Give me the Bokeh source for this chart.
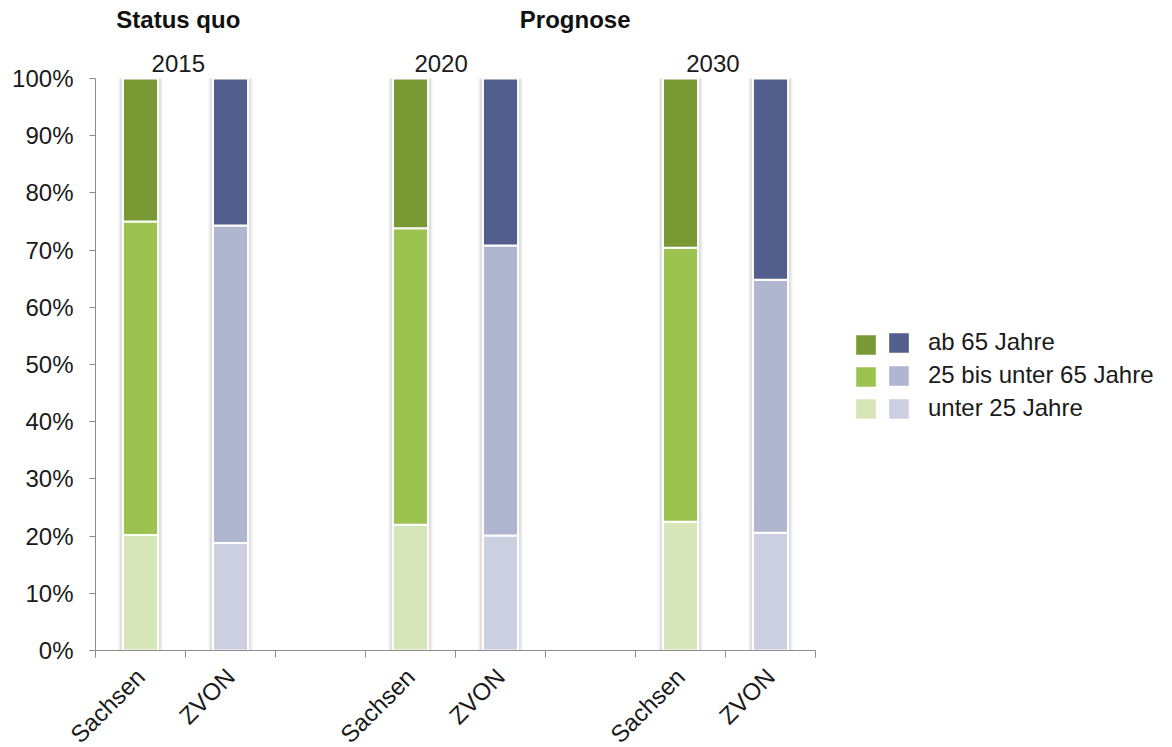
import numpy as np
from bokeh.plotting import figure
from bokeh.models import ColumnDataSource, FixedTicker, Label, Legend, LegendItem
from bokeh.embed import file_html
from bokeh.resources import INLINE

# ---------------- data ----------------
years = ["2015", "2020", "2030"]
regions = ["Sachsen", "ZVON"]
group_titles = ["Status quo", "Prognose"]
age_groups = ["unter 25 Jahre", "25 bis unter 65 Jahre", "ab 65 Jahre"]

sachsen_u25 = [20.2, 22.0, 22.5]
sachsen_25_65 = [54.8, 51.8, 47.9]
sachsen_65 = [25.0, 26.2, 29.6]

zvon_u25 = [18.8, 20.1, 20.6]
zvon_25_65 = [55.5, 50.7, 44.2]
zvon_65 = [25.7, 29.2, 35.2]

y_ticks = [0, 10, 20, 30, 40, 50, 60, 70, 80, 90, 100]
y_tick_labels = ["0%", "10%", "20%", "30%", "40%", "50%", "60%", "70%", "80%", "90%", "100%"]

sachsen_colors = ["#d7e6b9", "#9cc34f", "#789934"]
zvon_colors = ["#cbcfe0", "#b0b5d0", "#525e8b"]

FONT = "Liberation Sans"
FS = "24px"

# ---------------- figure ----------------
# frame spans to top / right edges so that the titles and legend (inside the frame) are not clipped
FRAME_W, FRAME_H = 1077, 650
PX_X = 90.0     # pixels per category slot
PX_Y = 5.72     # pixels per percent
p = figure(frame_width=FRAME_W, frame_height=FRAME_H,
           x_range=(0, FRAME_W / PX_X), y_range=(0, FRAME_H / PX_Y),
           output_backend="svg", toolbar_location=None,
           min_border_left=95, min_border_right=0, min_border_top=0, min_border_bottom=97)
p.outline_line_color = None
p.xgrid.visible = False
p.ygrid.visible = False
p.background_fill_color = "white"
p.border_fill_color = "white"

bar_w = 0.39
series = {
    "Sachsen": [sachsen_u25, sachsen_25_65, sachsen_65],
    "ZVON": [zvon_u25, zvon_25_65, zvon_65],
}
colors = {"Sachsen": sachsen_colors, "ZVON": zvon_colors}

legend_renderers = {"Sachsen": [], "ZVON": []}
for r_i, reg in enumerate(regions):
    xs = [3 * g + r_i + 0.5 for g in range(len(years))]
    vals = series[reg]
    totals = list(np.sum(np.array(vals), axis=0))
    # soft shadow around each bar
    p.vbar(x=xs, top=totals, bottom=0, width=bar_w + 0.1, fill_color="#f0f0f0", line_color=None)
    p.vbar(x=xs, top=totals, bottom=0, width=bar_w + 0.06, fill_color="#dedede", line_color=None)
    bottom = np.zeros(len(years))
    for a_i, age in enumerate(age_groups):
        top = bottom + np.array(vals[a_i])
        src = ColumnDataSource(dict(x=xs, bottom=list(bottom), top=list(top)))
        rr = p.vbar(x="x", bottom="bottom", top="top", width=bar_w, source=src,
                    fill_color=colors[reg][a_i], line_color="white", line_width=2)
        legend_renderers[reg].append(rr)
        bottom = top

# ---------------- axes ----------------
axis_color = "#8c8c8c"
yax = p.yaxis[0]
yax.ticker = FixedTicker(ticks=y_ticks)
yax.bounds = (0, 100)
yax.major_label_overrides = {t: l for t, l in zip(y_ticks, y_tick_labels)}
yax.axis_line_color = axis_color
yax.major_tick_line_color = axis_color
yax.major_tick_in = 0
yax.major_tick_out = 6
yax.minor_tick_line_color = None
yax.major_label_standoff = 16
yax.major_label_text_font = FONT
yax.major_label_text_font_size = FS
yax.major_label_text_color = "#1a1a1a"

xax = p.xaxis[0]
x_label_pos = [3 * g + r + 0.5 for g in range(len(years)) for r in range(len(regions))]
x_label_txt = [regions[r] for g in range(len(years)) for r in range(len(regions))]
xax.ticker = FixedTicker(ticks=x_label_pos, minor_ticks=list(range(0, 9)))
xax.bounds = (0, 8)
xax.major_label_overrides = {t: l for t, l in zip(x_label_pos, x_label_txt)}
xax.major_label_orientation = np.pi / 4
xax.axis_line_color = axis_color
xax.major_tick_line_color = None
xax.minor_tick_line_color = axis_color
xax.minor_tick_in = 0
xax.minor_tick_out = 7
xax.major_label_standoff = 15
xax.major_label_text_font = FONT
xax.major_label_text_font_size = FS
xax.major_label_text_color = "#1a1a1a"

# ---------------- year & group labels ----------------
year_x = [0.92, 3.84, 6.86]
for yx, yr in zip(year_x, years):
    p.add_layout(Label(x=yx, y=102.6, text=yr, text_align="center", text_baseline="middle",
                       text_font=FONT, text_font_size=FS, text_color="#1a1a1a"))
title_x = [0.92, 5.33]
for tx, tt in zip(title_x, group_titles):
    p.add_layout(Label(x=tx, y=110.3, text=tt, text_align="center", text_baseline="middle",
                       text_font=FONT, text_font_size=FS, text_font_style="bold",
                       text_color="#111111"))

# ---------------- legend ----------------
order = [2, 1, 0]
leg_g = Legend(items=[LegendItem(label=" ", renderers=[legend_renderers["Sachsen"][i]]) for i in order],
               location=(757, 228), orientation="vertical")
leg_b = Legend(items=[LegendItem(label=age_groups[i], renderers=[legend_renderers["ZVON"][i]]) for i in order],
               location=(790, 228), orientation="vertical")
for lg in (leg_g, leg_b):
    lg.glyph_width = 27
    lg.glyph_height = 27
    lg.spacing = 5
    lg.padding = 0
    lg.margin = 0
    lg.border_line_color = None
    lg.background_fill_alpha = 0
    lg.label_text_font = FONT
    lg.label_text_font_size = FS
    lg.label_text_color = "#1a1a1a"
    lg.label_standoff = 16
    lg.click_policy = "none"
leg_g.label_standoff = 0
p.add_layout(leg_g, "center")
p.add_layout(leg_b, "center")

open("out.html", "w").write(file_html(p, INLINE))
